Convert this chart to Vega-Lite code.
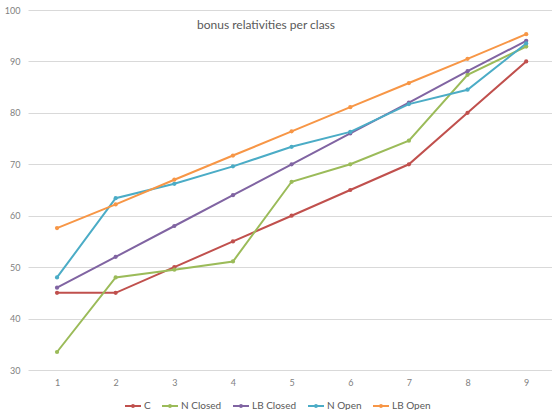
{
  "$schema": "https://vega.github.io/schema/vega-lite/v6.json",
  "width": 524,
  "height": 360,
  "autosize": {"type": "none"},
  "padding": {"left": 28, "top": 10, "right": 0, "bottom": 40},
  "background": "white",
  "config": {
    "view": {"stroke": null},
    "font": "Lato",
    "axis": {"labelColor": "#7f7f7f", "labelFont": "Lato", "labelFontSize": 9, "domain": false, "ticks": false, "gridColor": "#d9d9d9", "gridWidth": 1},
    "legend": {"labelColor": "#595959", "labelFont": "Lato", "labelFontSize": 10, "padding": 0}
  },
  "title": {"text": "bonus relativities per class", "fontSize": 12, "fontWeight": "normal", "color": "#595959", "font": "Lato", "anchor": "middle", "offset": -26, "dx": -24},
  "data": {"values": [
    {"class": 1, "series": "C", "value": 45},
    {"class": 2, "series": "C", "value": 45},
    {"class": 3, "series": "C", "value": 50},
    {"class": 4, "series": "C", "value": 55},
    {"class": 5, "series": "C", "value": 60},
    {"class": 6, "series": "C", "value": 65},
    {"class": 7, "series": "C", "value": 70},
    {"class": 8, "series": "C", "value": 80},
    {"class": 9, "series": "C", "value": 90},
    {"class": 1, "series": "N Closed", "value": 33.5},
    {"class": 2, "series": "N Closed", "value": 48},
    {"class": 3, "series": "N Closed", "value": 49.5},
    {"class": 4, "series": "N Closed", "value": 51.1},
    {"class": 5, "series": "N Closed", "value": 66.6},
    {"class": 6, "series": "N Closed", "value": 70},
    {"class": 7, "series": "N Closed", "value": 74.6},
    {"class": 8, "series": "N Closed", "value": 87.4},
    {"class": 9, "series": "N Closed", "value": 92.9},
    {"class": 1, "series": "LB Closed", "value": 46},
    {"class": 2, "series": "LB Closed", "value": 52},
    {"class": 3, "series": "LB Closed", "value": 58},
    {"class": 4, "series": "LB Closed", "value": 64},
    {"class": 5, "series": "LB Closed", "value": 70},
    {"class": 6, "series": "LB Closed", "value": 76},
    {"class": 7, "series": "LB Closed", "value": 82},
    {"class": 8, "series": "LB Closed", "value": 88.1},
    {"class": 9, "series": "LB Closed", "value": 94},
    {"class": 1, "series": "N Open", "value": 48},
    {"class": 2, "series": "N Open", "value": 63.4},
    {"class": 3, "series": "N Open", "value": 66.2},
    {"class": 4, "series": "N Open", "value": 69.6},
    {"class": 5, "series": "N Open", "value": 73.4},
    {"class": 6, "series": "N Open", "value": 76.3},
    {"class": 7, "series": "N Open", "value": 81.7},
    {"class": 8, "series": "N Open", "value": 84.5},
    {"class": 9, "series": "N Open", "value": 93.5},
    {"class": 1, "series": "LB Open", "value": 57.6},
    {"class": 2, "series": "LB Open", "value": 62.2},
    {"class": 3, "series": "LB Open", "value": 67},
    {"class": 4, "series": "LB Open", "value": 71.7},
    {"class": 5, "series": "LB Open", "value": 76.4},
    {"class": 6, "series": "LB Open", "value": 81.1},
    {"class": 7, "series": "LB Open", "value": 85.8},
    {"class": 8, "series": "LB Open", "value": 90.5},
    {"class": 9, "series": "LB Open", "value": 95.3}
  ]},
  "encoding": {
    "x": {"field": "class", "type": "quantitative", "scale": {"domain": [0.505, 9.44], "nice": false, "zero": false}, "axis": {"title": null, "grid": false, "values": [1,2,3,4,5,6,7,8,9], "labelPadding": 8}},
    "y": {"field": "value", "type": "quantitative", "scale": {"domain": [30, 100], "nice": false, "zero": false}, "axis": {"title": null, "values": [30,40,50,60,70,80,90,100], "labelPadding": 8}},
    "color": {"field": "series", "type": "nominal", "sort": ["C", "N Closed", "LB Closed", "N Open", "LB Open"],
      "scale": {"domain": ["C", "N Closed", "LB Closed", "N Open", "LB Open"], "range": ["#c0504d", "#9bbb59", "#8064a2", "#4bacc6", "#f79646"]},
      "legend": {"title": null, "orient": "none", "legendX": 96, "legendY": 387, "direction": "horizontal", "symbolType": "M-1,0H1M0.12,0A0.12,0.12,0,1,1,-0.12,0A0.12,0.12,0,1,1,0.12,0", "symbolStrokeWidth": 2, "symbolSize": 256, "columnPadding": 7, "labelOffset": 2}}
  },
  "layer": [
    {"mark": {"type": "line", "strokeWidth": 2}},
    {"mark": {"type": "point", "filled": true, "size": 18, "opacity": 1}}
  ]
}
